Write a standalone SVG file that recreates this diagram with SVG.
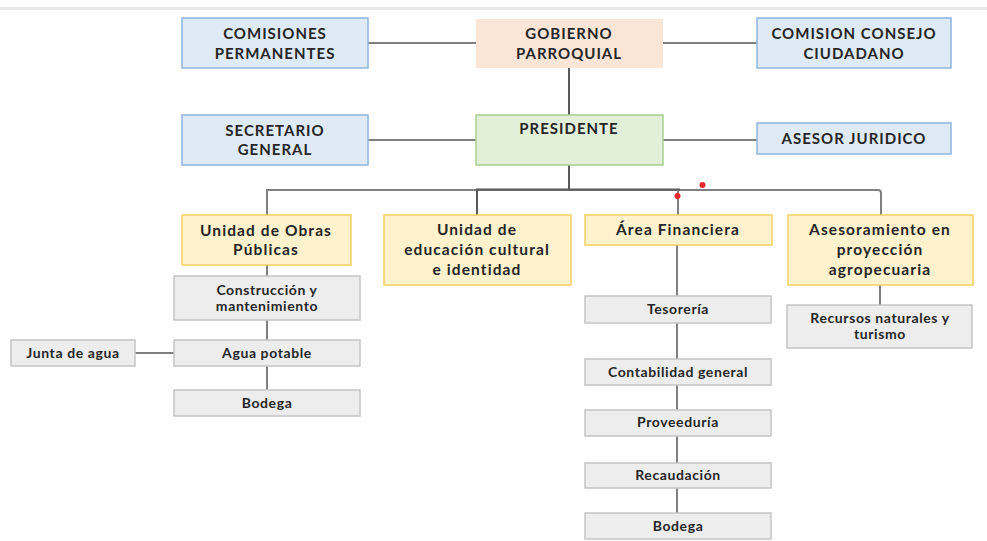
<svg xmlns="http://www.w3.org/2000/svg" width="987" height="541" viewBox="0 0 987 541">
<style>
.t{font-family:Lato,"Open Sans","Liberation Sans",sans-serif;font-weight:bold;fill:#262626;text-anchor:middle}
.big{font-size:15px;letter-spacing:1px}
.mid{font-size:15.5px;letter-spacing:1.1px}
.sm{font-size:14px;letter-spacing:0.6px}
.blue{fill:#deebf7;stroke:#8fb4de;stroke-width:1.5}
.peach{fill:#fbe5d6;stroke:none}
.green{fill:#e2f0d9;stroke:#a9d18e;stroke-width:1.5}
.yel{fill:#fff2cc;stroke:#f2cf64;stroke-width:1.5}
.gray{fill:#ededed;stroke:#c4c4c4;stroke-width:1.5}
.c{stroke:#808080;stroke-width:2;fill:none}
.cd{stroke:#595959;stroke-width:2;fill:none}
</style>
<rect x="0" y="0" width="987" height="541" fill="#ffffff"/>
<rect x="0" y="7" width="987" height="3" fill="#e9e9e9"/>
<g id="connectors">
<line class="c" x1="368" y1="43" x2="476" y2="43"/>
<line class="c" x1="663" y1="43" x2="757" y2="43"/>
<line class="cd" x1="569" y1="68" x2="569" y2="115"/>
<line class="c" x1="368" y1="140" x2="476" y2="140"/>
<line class="c" x1="663" y1="140" x2="757" y2="140"/>
<line class="cd" x1="569" y1="165" x2="569" y2="190" stroke-width="3"/>
<path class="c" d="M267 215 V190 H878 Q881 190 881 193 V215"/>
<line class="cd" x1="476" y1="189.5" x2="680" y2="189.5"/>
<line class="cd" x1="477" y1="190" x2="477" y2="215"/>
<line class="c" x1="678" y1="190" x2="678" y2="215"/>
<line class="c" x1="267" y1="265" x2="267" y2="276"/>
<line class="c" x1="267" y1="320" x2="267" y2="340"/>
<line class="c" x1="267" y1="366" x2="267" y2="390"/>
<line class="c" x1="135" y1="353" x2="174" y2="353"/>
<line class="c" x1="677" y1="245" x2="677" y2="296"/>
<line class="c" x1="677" y1="323" x2="677" y2="359"/>
<line class="c" x1="677" y1="385" x2="677" y2="410"/>
<line class="c" x1="677" y1="436" x2="677" y2="463"/>
<line class="c" x1="677" y1="488" x2="677" y2="513"/>
<line class="c" x1="880" y1="285" x2="880" y2="305"/>
</g>
<g id="comisiones">
<rect class="blue" x="182" y="18" width="186" height="50"/>
<text class="t big" x="275" y="39">COMISIONES</text>
<text class="t big" x="275" y="59">PERMANENTES</text>
</g>
<g id="gobierno">
<rect class="peach" x="476" y="19" width="187" height="49"/>
<text class="t big" x="569" y="39">GOBIERNO</text>
<text class="t big" x="569" y="59">PARROQUIAL</text>
</g>
<g id="consejo">
<rect class="blue" x="757" y="18" width="194" height="50"/>
<text class="t big" x="854" y="39">COMISION CONSEJO</text>
<text class="t big" x="854" y="59">CIUDADANO</text>
</g>
<g id="secretario">
<rect class="blue" x="182" y="115" width="186" height="50"/>
<text class="t big" x="275" y="136">SECRETARIO</text>
<text class="t big" x="275" y="155">GENERAL</text>
</g>
<g id="presidente">
<rect class="green" x="476" y="115" width="187" height="50"/>
<text class="t big" x="569" y="134">PRESIDENTE</text>
</g>
<g id="asesor">
<rect class="blue" x="757" y="123" width="194" height="31"/>
<text class="t big" x="854" y="144">ASESOR JURIDICO</text>
</g>
<g id="obras">
<rect class="yel" x="182" y="215" width="169" height="50"/>
<text class="t mid" x="266" y="236">Unidad de Obras</text>
<text class="t mid" x="266" y="255">Públicas</text>
</g>
<g id="educacion">
<rect class="yel" x="384" y="215" width="187" height="70"/>
<text class="t mid" x="477" y="235">Unidad de</text>
<text class="t mid" x="477" y="255">educación cultural</text>
<text class="t mid" x="477" y="275">e identidad</text>
</g>
<g id="financiera">
<rect class="yel" x="585" y="215" width="187" height="30"/>
<text class="t mid" x="678" y="235">Área Financiera</text>
</g>
<g id="agropecuaria">
<rect class="yel" x="788" y="215" width="185" height="70"/>
<text class="t mid" x="880" y="235">Asesoramiento en</text>
<text class="t mid" x="880" y="255">proyección</text>
<text class="t mid" x="880" y="275">agropecuaria</text>
</g>
<g id="construccion">
<rect class="gray" x="174" y="276" width="186" height="44"/>
<text class="t sm" x="267" y="295">Construcción y</text>
<text class="t sm" x="267" y="311">mantenimiento</text>
</g>
<g id="agua">
<rect class="gray" x="174" y="340" width="186" height="26"/>
<text class="t sm" x="267" y="358">Agua potable</text>
</g>
<g id="junta">
<rect class="gray" x="11" y="340" width="124" height="26"/>
<text class="t sm" x="73" y="358">Junta de agua</text>
</g>
<g id="bodega1">
<rect class="gray" x="174" y="390" width="186" height="26"/>
<text class="t sm" x="267" y="408">Bodega</text>
</g>
<g id="tesoreria">
<rect class="gray" x="585" y="296" width="186" height="27"/>
<text class="t sm" x="678" y="314">Tesorería</text>
</g>
<g id="contabilidad">
<rect class="gray" x="585" y="359" width="186" height="26"/>
<text class="t sm" x="678" y="377">Contabilidad general</text>
</g>
<g id="proveeduria">
<rect class="gray" x="585" y="410" width="186" height="26"/>
<text class="t sm" x="678" y="427">Proveeduría</text>
</g>
<g id="recaudacion">
<rect class="gray" x="585" y="463" width="186" height="25"/>
<text class="t sm" x="678" y="480">Recaudación</text>
</g>
<g id="bodega2">
<rect class="gray" x="585" y="513" width="186" height="26"/>
<text class="t sm" x="678" y="531">Bodega</text>
</g>
<g id="recursos">
<rect class="gray" x="787" y="305" width="185" height="43"/>
<text class="t sm" x="880" y="323">Recursos naturales y</text>
<text class="t sm" x="880" y="339">turismo</text>
</g>
<circle cx="677.5" cy="196" r="3" fill="#e8262b"/>
<circle cx="702.5" cy="185" r="3" fill="#e8262b"/>
</svg>
